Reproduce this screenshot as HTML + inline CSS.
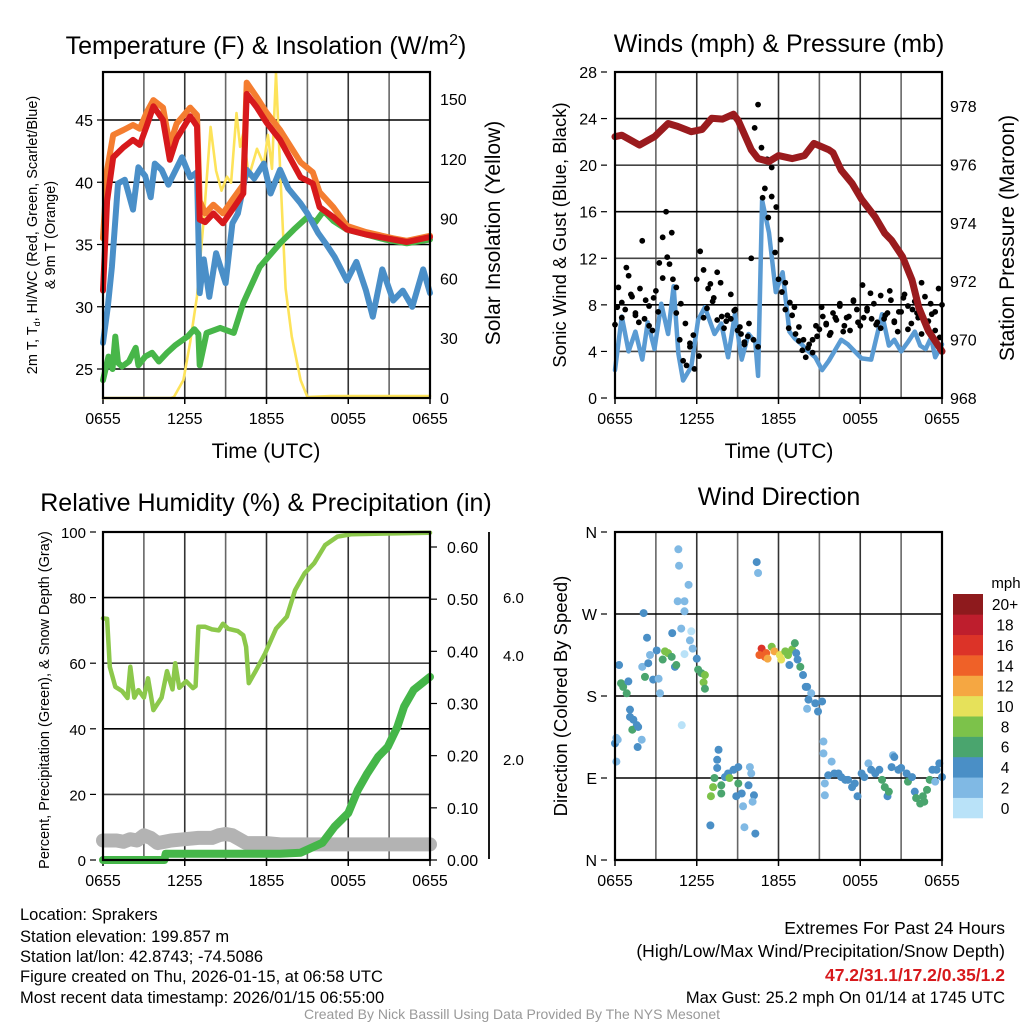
<!DOCTYPE html>
<html><head><meta charset="utf-8"><style>
body{margin:0;background:#fff;}
svg{display:block;font-family:"Liberation Sans",Arial,sans-serif;}
</style></head><body>
<svg id="chart" width="1024" height="1024" viewBox="0 0 1024 1024" xmlns="http://www.w3.org/2000/svg">
<rect width="1024" height="1024" fill="#fff"/>
<g id="p1"></g>
<g id="p2"></g>
<g id="p3"></g>
<g id="p4"></g>
<g font-size="16.5" fill="#000">
<text x="20" y="920">Location: Sprakers</text>
<text x="20" y="942">Station elevation: 199.857 m</text>
<text x="20" y="962">Station lat/lon: 42.8743; -74.5086</text>
<text x="20" y="982">Figure created on Thu, 2026-01-15, at 06:58 UTC</text>
<text x="20" y="1003">Most recent data timestamp: 2026/01/15 06:55:00</text>
</g>
<g font-size="17.5" text-anchor="end">
<text x="1005" y="934">Extremes For Past 24 Hours</text>
<text x="1005" y="957">(High/Low/Max Wind/Precipitation/Snow Depth)</text>
<text x="1005" y="981" fill="#d7191c" font-weight="bold">47.2/31.1/17.2/0.35/1.2</text>
<text x="1005" y="1003" font-size="16.5">Max Gust: 25.2 mph On 01/14 at 1745 UTC</text>
</g>
<text x="512" y="1019" font-size="14" fill="#999" text-anchor="middle">Created By Nick Bassill Using Data Provided By The NYS Mesonet</text>
</svg>
<script>
// ---- shared
const xTicks = ["0655","1255","1855","0055","0655"];
// ---- panel 1 data
const redT = [0,0.3,0.75,1.5,2.2,2.7,3.2,3.7,4.4,4.9,5.4,6.4,6.9,7.1,7.5,8.1,8.8,9.5,10.3,10.55,11.3,12,13,14.5,15.4,15.9,16.9,17.9,19.3,21.3,22.3,24];
const redV = [31.3,38.5,42,42.8,43.4,43,44.5,46.1,45,41.8,43.5,45.3,44.5,37,36.8,37.5,36.7,37.8,39.1,47.1,46,44.8,43.4,40.4,39.9,38,37.2,36.2,35.8,35.4,35.2,35.6];
const orT = [0,0.3,0.75,1.5,2.2,2.7,3.2,3.7,4.4,4.9,5.4,6.4,6.9,7.1,7.5,8.1,8.8,9.5,10.3,10.55,11.3,12,13,14.5,15.4,15.9,16.9,17.9,19.3,21.3,22.3,24];
const orV = [35.5,41,43.8,44.2,44.6,44.3,45.6,46.6,46,43,44.7,46,45.4,38.5,37.5,38.2,37.5,38.6,39.8,48,46.8,45.6,44.2,41.6,40.8,39.2,38,36.5,36,35.5,35.3,35.7];
const blT = [0,0.35,0.65,1.1,1.6,2.2,2.6,3.1,3.5,3.8,4.3,4.8,5.8,6.4,6.9,7.1,7.4,7.8,8.3,9,9.5,9.9,10.55,11.1,11.8,12.3,13,13.6,14.5,15,15.8,16.4,17,17.9,18.6,19.3,19.8,20.5,21.3,22,22.7,23.5,24];
const blV = [27.1,30,33.2,39.9,40.2,37.8,41.2,40.5,38.8,41.5,41,39.8,42,40.4,40.8,31.1,33.8,30.8,34.3,31.9,36.7,37.5,41,40.3,41.5,39.1,41,39.5,38.3,37.5,35.9,35,34,32.1,33.6,31.3,29.2,33,30.5,31.3,30,33,31.1];
const grT = [0,0.4,0.7,0.9,1.1,1.4,1.9,2.4,2.6,3.1,3.6,4.1,4.7,5.3,6.2,6.7,7.0,7.1,7.6,8.6,9.6,10.3,11.5,13,14,15,15.6,16.2,16.9,17.9,19.3,20.7,22.3,24];
const grV = [24.1,26,25,27.6,25.5,25.2,25.6,26.7,25.3,26,26.3,25.6,26.3,26.9,27.6,28.2,27.8,25.3,27.9,28.3,27.9,30.3,33.2,35.1,36.2,37.2,36.8,37.7,36.9,36.2,35.8,35.4,35.1,35.4];
const yeT = [0,5,5.2,5.9,6.4,6.9,7.4,7.9,8.3,8.7,9.1,9.4,9.8,10.06,10.3,10.7,11.3,11.8,12.1,12.4,12.7,13,13.4,13.85,14.5,15,16.7,24];
const yeV = [0,0,0.5,9,28,51,90,136,114,104,111,108,143,126,133,111,125,117,132,115,163,115,55,31,9,0.5,1,1];
const p1Left = [25,30,35,40,45];
const p1Right = [0,30,60,90,120,150];
// ---- panel 2 data
const presT = [0,0.5,1.8,2.9,3.9,4.6,5.6,6.4,7.1,7.9,8.7,9.05,10,10.5,11.3,12,13,13.9,14.6,15.7,16,16.6,17.4,18.1,19.1,19.8,20.3,21.1,21.8,22.3,23,24];
const presV = [976.95,977,976.66,976.95,977.4,977.3,977.12,977.2,977.58,977.55,977.72,977.5,976.5,976.2,976.1,976.3,976.2,976.3,976.72,976.5,976.4,975.8,975.35,974.8,974.2,973.64,973.4,972.84,972.04,971.1,970.3,969.6];
const windT = [0,0.5,1,1.5,2,2.4,2.9,3.4,3.9,4.3,4.65,5,5.6,6.1,6.6,7.3,7.8,8.3,8.8,9.3,9.8,10.3,10.5,10.8,11.3,11.8,12.3,12.8,13.2,13.7,14.2,14.7,15.2,15.7,16.2,16.6,17.1,17.6,18.1,18.8,19.6,20.1,20.5,21,21.5,22,22.4,22.8,23.2,23.5,24];
const windV = [2.4,7,4,5.7,3.3,6.5,4.2,8.1,5.5,9.6,3.8,1.5,2.7,6.7,7.8,5.5,6.4,3.5,7.2,3.3,5.5,4.8,1.9,17,14.2,9.1,10.8,5.7,5.1,4.6,4,3.5,2.4,3.2,4.2,5,4.6,4,3.4,3.3,7.2,4.5,5,4,4.8,5.7,4.5,4.2,5.2,3.5,4.6];
const gustV = [6.3,9.5,8.2,7.6,10.5,8.7,7.1,6.5,13.5,8.4,6.2,5.8,9.2,11.6,13.8,16.0,11.5,10.2,7.3,5.0,3.2,2.8,4.7,5.4,10.2,12.6,11.0,7.7,9.8,8.6,6.7,9.9,6.0,7.1,6.8,7.5,5.8,5.5,4.6,5.3,12.0,23.2,25.2,21.5,18.0,15.5,17.3,12.5,10.2,9.1,7.6,6.0,7.1,5.5,4.9,4.1,3.5,4.6,5.0,6.2,5.9,7.0,6.3,5.4,7.3,6.7,8.1,5.7,6.9,5.8,8.3,7.6,6.2,6.9,7.7,9.0,8.1,6.5,6.0,6.8,7.3,8.4,6.5,5.7,7.4,8.9,7.9,6.4,8.3,6.9,5.5,8.7,6.6,7.2,5.8,9.4,8.0];
const gustV2 = [7.8,6.9,11.2,8.9,7.3,9.4,6.8,7.9,8.6,7.4,10.3,12.1,14.2,9.5,8.1,6.4,4.4,2.5,3.6,6.9,9.4,8.3,10.8,7.0,6.6,8.9,7.6,6.1,4.8,6.4,5.0,4.4,17.2,20.5,19.8,16.4,13.6,9.9,8.2,7.8,6.1,5.0,4.3,3.9,5.3,7.8,6.4,5.6,6.9,7.9,6.2,7.0,8.4,6.5,9.7,7.5,6.8,6.3,8.8,7.1,9.2,6.6,7.4,8.6,5.9,7.6,7.3,9.9,6.2,8.1,7.4,5.2];
const p2Left = [0,4,8,12,16,20,24,28];
const p2Right = [968,970,972,974,976,978];
// ---- panel 3 data
const rhT = [0,0.3,0.5,0.9,1.4,1.8,2,2.3,2.6,3,3.3,3.7,4.3,4.7,5.1,5.3,5.6,6.1,6.6,6.8,7,7.5,8,8.5,8.8,9.2,9.9,10.3,10.5,10.7,11.2,11.9,12.7,13.5,14.1,14.8,15.5,16.3,17.2,18.2,20.4,24];
const rhV = [73.7,73.5,58.9,52.8,51.5,49.4,58.9,49.5,51.8,49.5,55.4,45.7,49.5,57.6,52,60,52.5,54.5,52.4,53,71.1,71.1,70.3,70,72,70.5,69.8,68.5,65,53.9,57.6,63,70.5,74.2,82.3,87.4,90.5,96,98.6,99.3,99.5,99.8];
const prT = [0,4.5,4.6,13,14.5,16.1,17,18,18.7,19.4,20.2,20.9,21.6,22.1,22.8,24];
const prV = [0,0,0.012,0.012,0.014,0.033,0.064,0.09,0.134,0.166,0.198,0.217,0.255,0.294,0.326,0.351];
const snT = [0,1,1.5,2,2.5,3,3.5,4,5,6,7,8,8.5,9,9.5,10,10.5,11,12,13,24];
const snV = [1.5,1.5,1.4,1.6,1.5,1.9,1.7,1.3,1.5,1.6,1.7,1.7,1.9,2.0,1.9,1.6,1.3,1.3,1.3,1.2,1.2];
const p3Left = [0,20,40,60,80,100];
const p3Precip = ["0.00","0.10","0.20","0.30","0.40","0.50","0.60"];
// ---- panel 4 data
const dirT = [0,0.1,0.2,0.1,0.3,0.44,0.6,0.86,0.98,1.1,1.1,1.35,1.6,1.27,1.7,1.96,1.66,2.1,2.35,2.0,2.2,2.44,2.57,2.8,3.06,3.2,3.3,3.5,3.67,3.9,4.16,4.2,4.4,4.5,4.65,4.7,4.6,5.1,5.4,5.1,4.86,5.1,4.9,5.6,5.5,5.7,6.0,6.1,6.35,6.6,6.5,6.6,7.0,7.04,7.2,7.3,7.6,7.5,7.5,7.8,7.8,8.07,8.3,8.4,8.7,9.05,9.05,8.9,9.3,9.4,9.5,9.8,9.9,10.0,10.2,10.1,10.3,10.4,10.5,10.76,11.0,10.6,11.1,11.2,11.5,11.7,12.1,12.2,12.5,12.7,13.0,13.2,12.8,13.3,13.4,13.6,13.8,14.0,14.1,14.4,14.2,14.1,14.7,14.9,15.2,15.3,15.3,15.4,15.4,15.65,15.9,16.1,16.4,16.6,16.9,17.1,17.4,17.6,17.8,18.1,18.3,18.6,18.8,19.1,19.4,19.6,19.8,20.0,20.1,20.3,20.4,20.5,20.8,21.0,21.4,21.5,21.8,22.0,22.1,22.4,22.6,22.7,22.9,23.1,23.3,23.6,23.5,23.8,24];
const dirV = [128,134,132,108,214,194,190,183,196,165,157,154,148,143,146,132,124,271,244,212,201,216,225,198,230,199,183,220,229,227,223,249,212,214,341,323,284,284,302,273,254,226,148,251,241,232,221,209,205,203,195,188,38,70,80,90,121,110,101,82,73,91,95,90,99,102,84,70,73,59,36,82,102,95,71,64,29,327,315,232,223,225,227,221,234,229,225,220,229,225,231,238,214,227,220,212,203,190,190,183,176,166,172,163,174,130,117,84,71,93,108,95,95,91,88,88,80,84,70,95,91,106,99,95,99,88,80,70,75,102,115,113,99,101,95,86,91,75,68,62,70,64,77,88,99,99,86,106,91];
const dirS = [4,3,2,2,4,6,6,6,4,4,4,4,4,6,4,2,4,4,4,2,6,4,2,4,4,2,2,6,8,8,6,4,4,6,2,2,2,2,2,2,2,0,0,0,2,2,4,6,6,8,8,6,4,8,8,6,4,4,4,6,6,4,4,8,4,4,6,4,4,2,2,4,2,2,4,2,4,4,2,16,14,14,14,12,8,12,10,10,8,8,8,6,4,4,4,6,4,4,4,2,4,2,4,4,4,2,2,2,2,4,2,4,4,4,4,4,4,4,4,4,4,2,4,4,4,6,6,4,6,4,2,4,4,4,4,6,4,4,6,6,6,6,6,6,4,4,2,4,4];
const binLabels = ["0","2","4","6","8","10","12","14","16","18","20+"];
const binColors = ["#b9e2f8","#80b9e4","#4a8fc6","#4aa56e","#7cc24a","#e6e15a","#f5a742","#ef6128","#dc3328","#be1e2d","#8e1a1d"];
const dirLabels = ["N","E","S","W","N"];

// ---- helpers
const NS = "http://www.w3.org/2000/svg";
const TICK = 16;
function mk(parent, tag, attrs, text){
  const e = document.createElementNS(NS, tag);
  for (const k in attrs) e.setAttribute(k, attrs[k]);
  if (text !== undefined) e.textContent = text;
  parent.appendChild(e);
  return e;
}
function linScale(d0,d1,r0,r1){ return v => r0 + (v-d0)*(r1-r0)/(d1-d0); }
function pts(ts, vs, sx, sy){ return ts.map((t,i)=>sx(t).toFixed(1)+","+sy(vs[i]).toFixed(1)).join(" "); }

function frame(g, L, T, R, B, xs){
  for (let h=3; h<24; h+=3){
    const x = xs(h);
    const l = mk(g,"line",{x1:x,y1:T,x2:x,y2:B,stroke:(h%6==0)?"#333":"#666","stroke-width":1.6});
    
    
  }
  xTicks.forEach((lab,i)=>{
    const x = xs(i*6);
    const tk = mk(g,"line",{x1:x,y1:B,x2:x,y2:B+6,stroke:"#000","stroke-width":1.5});
    
    
    const tx = mk(g,"text",{x:x,y:B+26,"font-size":TICK,"text-anchor":"middle"},lab);
    
    
  });
}
function hgrid(g, L, R, y, dark){
  const l = mk(g,"line",{x1:L,y1:y,x2:R,y2:y,stroke:dark?"#000":"#444","stroke-width":1.6});
  
  
}
function border(g,L,T,R,B){
  const r = mk(g,"rect",{x:L,y:T,width:R-L,height:B-T,fill:"none",stroke:"#000","stroke-width":2.2});
  
  
}
function leftLabel(g,x,y,txt,size){
  const t = mk(g,"text",{x:x,y:y+6,"font-size":size||TICK,"text-anchor":"end"},txt);
  
  
  const k = mk(g,"line",{x1:x+4,y1:y,x2:x+10,y2:y,stroke:"#000","stroke-width":1.2});
  
  
}
function rightLabel(g,x,y,txt){
  const t = mk(g,"text",{x:x,y:y+6,"font-size":TICK},txt);
  
  
}
function line(g, ts, vs, sx, sy, color, w, name){
  const p = mk(g,"polyline",{points:pts(ts,vs,sx,sy),fill:"none",stroke:color,"stroke-width":w,"stroke-linejoin":"round","stroke-linecap":"round"});
  
  
  return p;
}
function title(g,x,y,txt,size){
  const t = mk(g,"text",{x:x,y:y,"font-size":size,"text-anchor":"middle"},txt);
  
  
  return t;
}
function rotText(g,x,y,txt,size,name){
  const t = mk(g,"text",{x:x,y:y,"font-size":size,"text-anchor":"middle",transform:"rotate(-90 "+x+" "+y+")"},txt);
  
  
  return t;
}

// ---- Panel 1
(function(){
  const g = document.getElementById("p1");
  const L=103,R=430,T=72,B=398;
  const xs = linScale(0,24,L,R);
  const ys = linScale(25,45,369,120);
  const ysR = linScale(0,150,398,99);
  frame(g,L,T,R,B,xs);
  p1Left.forEach(v=>{ hgrid(g,L,R,ys(v),true); leftLabel(g,93,ys(v),String(v)); });
  p1Right.forEach(v=>{ rightLabel(g,440,ysR(v),String(v)); });
  line(g,yeT,yeV,xs,ysR,"#fde35a",2.6,"insolation-line");
  line(g,grT,grV,xs,ys,"#47b649",6,"dewpoint-line");
  line(g,blT,blV,xs,ys,"#4a8fc8",6,"windchill-line");
  line(g,orT,orV,xs,ys,"#f47d30",6,"temp-9m-line");
  line(g,redT,redV,xs,ys,"#d7191c",6,"temp-2m-line");
  border(g,L,T,R,B);
  const t = title(g,266,54,"Temperature (F) & Insolation (W/m",25);
  mk(t,"tspan",{dy:-9,"font-size":16},"2");
  mk(t,"tspan",{dy:9},")");
  const xt = mk(g,"text",{x:266,y:458,"font-size":21,"text-anchor":"middle"},"Time (UTC)");
  
  
  const yt = mk(g,"text",{x:37,y:235,"font-size":14.5,"text-anchor":"middle",transform:"rotate(-90 37 235)"},"2m T, T");
  
  
  mk(yt,"tspan",{dy:3,"font-size":9},"d");
  mk(yt,"tspan",{dy:-3},", HI/WC (Red, Green, Scarlet/Blue)");
  rotText(g,55,235,"& 9m T (Orange)",14.5,"y-axis-title-line2");
  rotText(g,500,233,"Solar Insolation (Yellow)",21,"right-axis-title");
})();

// ---- Panel 2
(function(){
  const g = document.getElementById("p2");
  const L=615,R=942,T=72,B=398;
  const xs = linScale(0,24,L,R);
  const ys = linScale(0,28,398,72);
  const ysR = linScale(968,978,398,106);
  frame(g,L,T,R,B,xs);
  p2Left.forEach(v=>{ if(v>0&&v<28) hgrid(g,L,R,ys(v),v%8==0); leftLabel(g,597,ys(v),String(v)); });
  p2Right.forEach(v=>{ rightLabel(g,950,ysR(v),String(v)); });
  line(g,windT,windV,xs,ys,"#5a9bd3",4.5,"sonic-wind-line");
  const n = gustV.length;
  gustV.forEach((v,i)=>{
    const c = mk(g,"circle",{cx:xs(i*24/(n-1)),cy:ys(v),r:2.9,fill:"#000"});
    
    
  });
  const n2 = gustV2.length;
  gustV2.forEach((v,i)=>{
    const c = mk(g,"circle",{cx:xs((i+0.5)*24/n2),cy:ys(v),r:2.9,fill:"#000"});
    
    
  });
  line(g,presT,presV,xs,ysR,"#9a1b1e",7,"pressure-line");
  border(g,L,T,R,B);
  title(g,779,52,"Winds (mph) & Pressure (mb)",25);
  const xt = mk(g,"text",{x:779,y:458,"font-size":21,"text-anchor":"middle"},"Time (UTC)");
  
  
  rotText(g,566,235,"Sonic Wind & Gust (Blue, Black)",18.5,"y-axis-title");
  rotText(g,1014,238,"Station Pressure (Maroon)",21,"right-axis-title");
})();

// ---- Panel 3
(function(){
  const g = document.getElementById("p3");
  const L=103,R=430,T=532,B=860;
  const xs = linScale(0,24,L,R);
  const ys = linScale(0,100,860,532);
  const ysP = linScale(0,0.6,860,547);
  const ysS = linScale(0,1,860,847);
  frame(g,L,T,R,B,xs);
  p3Left.forEach(v=>{ if(v>0&&v<100) hgrid(g,L,R,ys(v),v%40==0); leftLabel(g,86,ys(v),String(v),15); });
  p3Precip.forEach(s=>{
    const y = ysP(parseFloat(s));
    const k = mk(g,"line",{x1:R,y1:y,x2:R+7,y2:y,stroke:"#000","stroke-width":1.2});
    
    
    rightLabel(g,447,y,s);
  });
  const ax = mk(g,"line",{x1:489,y1:532,x2:489,y2:859,stroke:"#000","stroke-width":1.8});
  
  
  [["6.0",598],["4.0",656],["2.0",760]].forEach(a=>{
    const t = mk(g,"text",{x:503,y:a[1]+5,"font-size":15},a[0]);
    
    
  });
  line(g,snT,snV,xs,ysS,"#b3b3b3",14,"snow-depth-line");
  line(g,rhT,rhV,xs,ys,"#8cc84b",4.5,"humidity-line");
  line(g,prT,prV,xs,ysP,"#45b649",8,"precip-line");
  border(g,L,T,R,B);
  title(g,266,511,"Relative Humidity (%) & Precipitation (in)",25);
  rotText(g,49,700,"Percent, Precipitation (Green), & Snow Depth (Gray)",14.5,"y-axis-title");
})();

// ---- Panel 4
(function(){
  const g = document.getElementById("p4");
  const L=615,R=942,T=532,B=860;
  const xs = linScale(0,24,L,R);
  const ys = linScale(0,360,860,532);
  frame(g,L,T,R,B,xs);
  dirLabels.forEach((s,i)=>{ if(i>0&&i<4) hgrid(g,L,R,ys(i*90),true); leftLabel(g,597,ys(i*90),s); });
  dirT.forEach((t,i)=>{
    const bin = Math.min(10, Math.max(0, Math.floor(dirS[i]/2)));
    const c = mk(g,"circle",{cx:xs(t),cy:ys(dirV[i]),r:4,fill:binColors[bin]});
    
    
  });
  border(g,L,T,R,B);
  title(g,779,505,"Wind Direction",25);
  rotText(g,567,696,"Direction (Colored By Speed)",18.5,"y-axis-title");
  const cb = mk(g,"g",{});
  
  
  const top=594, bot=818, h=(bot-top)/binColors.length;
  binColors.forEach((c,i)=>{
    const y = bot - (i+1)*h;
    const r = mk(cb,"rect",{x:953,y:y,width:30,height:h+0.3,fill:c});
    
    
    const t = mk(cb,"text",{x:1005,y:y+h/2+6,"font-size":15.5,"text-anchor":"middle"},binLabels[i]);
    
    
  });
  const u = mk(cb,"text",{x:1006,y:588,"font-size":15,"text-anchor":"middle"},"mph");
  
  
})();
</script>
</body></html>
